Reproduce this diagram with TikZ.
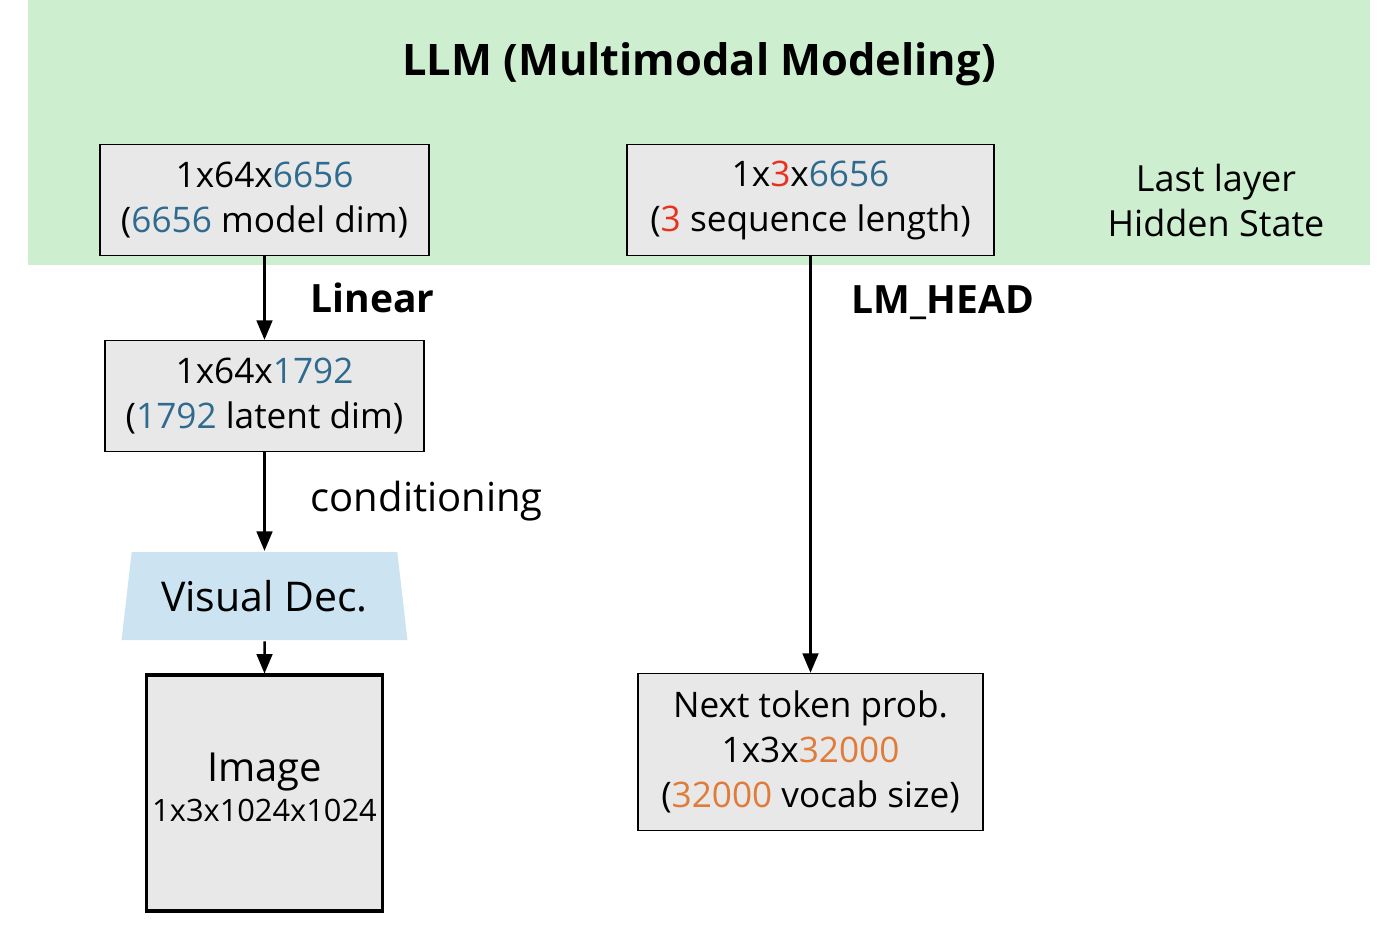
\documentclass[tikz,border=0pt]{standalone}
\usepackage{fontspec}
\setmainfont{Open Sans}
\usepackage{tikz}
\usetikzlibrary{arrows,positioning,shapes.geometric}

\definecolor{bandgreen}{HTML}{CDEFD0}
\definecolor{boxgray}{HTML}{E8E8E8}
\definecolor{decblue}{HTML}{CCE4F2}
\definecolor{dimblue}{HTML}{2F6B8F}
\definecolor{seqred}{HTML}{E8321E}
\definecolor{vocorange}{HTML}{E07B39}

\tikzset{
  tensor/.style={draw=black, line width=0.8pt, fill=boxgray, align=center, font=\fontsize{17.6}{22.5}\selectfont, inner sep=0pt},
  lbl/.style={inner sep=0pt, font=\fontsize{20}{24}\selectfont}
}

\begin{document}
\begin{tikzpicture}[x=0.5pt,y=-0.5pt,->,>=triangle 45,line width=1.25pt]
      \useasboundingbox (0,0) rectangle (1384,932);
      % LLM band
      \fill[bandgreen] (28,0) rectangle (1370,265);
      \node (title) at (699,64) {\fontsize{21.7}{26}\selectfont\bfseries LLM (Multimodal Modeling)};
      \node[tensor, minimum width=164.5pt, minimum height=55.5pt] (hidA) at (264.5,200) {1x64x\textcolor{dimblue}{6656}\\(\textcolor{dimblue}{6656} model dim)};
      \node[tensor, minimum width=183.5pt, minimum height=55.5pt] (hidB) at (810.5,200) {1x\textcolor{seqred}{3}x\textcolor{dimblue}{6656}\\(\textcolor{seqred}{3} sequence length)};
      \node[lbl, align=center, right of=hidB, node distance=202.75pt, font=\fontsize{18}{22.5}\selectfont] (last) {Last layer\\Hidden State};
      % image branch
      \node[tensor, minimum width=159.5pt, minimum height=55.5pt, below of=hidA, node distance=98pt] (lat) {1x64x\textcolor{dimblue}{1792}\\(\textcolor{dimblue}{1792} latent dim)};
      \node[trapezium, trapezium stretches=true, trapezium left angle=76, trapezium right angle=76, fill=decblue, minimum width=143pt, minimum height=44pt, inner sep=0pt, below of=lat, node distance=100pt, font=\fontsize{20.5}{24}\selectfont] (dec) {Visual Dec.};
      \node[tensor, line width=1.6pt, minimum width=118pt, minimum height=118pt, below of=dec, node distance=98.5pt, font=\fontsize{20}{20}\selectfont] (img) {Image\\{\fontsize{15.4}{18}\selectfont 1x3x1024x1024}\\[-14pt]};
      % text branch
      \node[tensor, minimum width=172.5pt, minimum height=78.5pt, below of=hidB, node distance=276pt] (prob) {Next token prob.\\1x3x\textcolor{vocorange}{32000}\\(\textcolor{vocorange}{32000} vocab size)};
      \path (hidA) edge node[lbl, right=22.5pt, midway, font=\fontsize{19.5}{24}\selectfont\bfseries] {Linear} (lat)
      (lat) edge node[lbl, right=22.5pt, midway] {conditioning} (dec)
      (dec) edge (img)
      (hidB) edge node[lbl, right=20pt, pos=0.11, font=\fontsize{19.5}{24}\selectfont\bfseries] {LM\_HEAD} (prob);
    \end{tikzpicture}
\end{document}
